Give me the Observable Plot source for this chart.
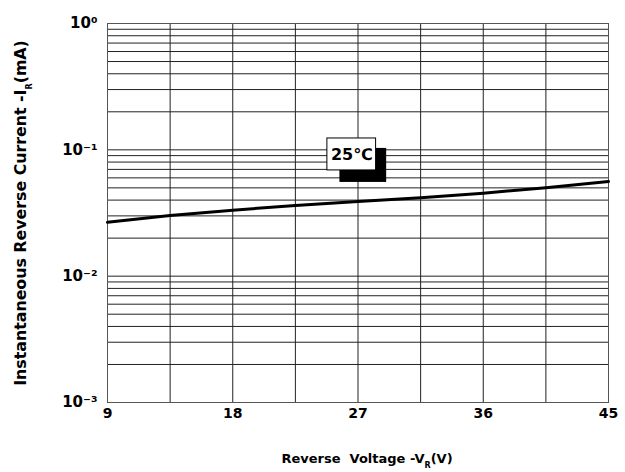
<!DOCTYPE html>
<html><head><meta charset="utf-8">
<script src="https://cdn.jsdelivr.net/npm/d3@7"></script>
<script src="https://cdn.jsdelivr.net/npm/@observablehq/plot@0.6"></script>
<style>body{margin:0;background:#fff;} svg{display:block;}</style>
</head><body><div id="chart"></div>
<script>
// Data
const voltage = [9, 13.5, 18, 22.5, 27, 31.5, 36, 40.5, 45];
const current = [0.0267, 0.0302, 0.0333, 0.0363, 0.039, 0.0417, 0.0454, 0.0501, 0.0562];

// Axes / ticks
const xTicks = [9, 18, 27, 36, 45];
const xGrid = [9, 13.5, 18, 22.5, 27, 31.5, 36, 40.5, 45];
const yTicks = [0.001, 0.01, 0.1, 1];
const yTickLabels = ["10⁻³", "10⁻²", "10⁻¹", "10⁰"];

// Annotation
const tempLabel = ["25℃"];
const labelBoxV = [24.8, 28.3];
const labelBoxI = [0.0687, 0.123];
const shadowV = [25.7, 29.06];
const shadowI = [0.0552, 0.1026];

// Titles
const xTitle = ["Reverse  Voltage -V", "R", "(V)"];
const yTitle = ["Instantaneous Reverse Current -I", "R", "(mA)"];

const series = voltage.map((v, i) => ({v, i: current[i]}));
const yGrid = d3.scaleLog().domain([yTicks[0], yTicks[yTicks.length - 1]]).ticks();

const font = "'DejaVu Sans', sans-serif";

const chart = Plot.plot({
  width: 625,
  height: 472,
  marginLeft: 107,
  marginRight: 17,
  marginTop: 23,
  marginBottom: 70,
  style: {fontFamily: font, background: "#fff", color: "#000"},
  x: {domain: [9, 45], label: null},
  y: {type: "log", domain: [0.001, 1], label: null},
  marks: [
    Plot.ruleY(yGrid, {stroke: "#222", strokeWidth: 1}),
    Plot.ruleX(xGrid, {stroke: "#222", strokeWidth: 1}),
    Plot.frame({stroke: "#555", strokeWidth: 1}),
    Plot.line(series, {x: "v", y: "i", stroke: "#000", strokeWidth: 3}),
    Plot.rect([0], {x1: shadowV[0], x2: shadowV[1], y1: shadowI[0], y2: shadowI[1], fill: "#000"}),
    Plot.rect([0], {x1: labelBoxV[0], x2: labelBoxV[1], y1: labelBoxI[0], y2: labelBoxI[1], fill: "#fff", stroke: "#000", strokeWidth: 1}),
    Plot.text(tempLabel, {x: (labelBoxV[0] + labelBoxV[1]) / 2, y: Math.sqrt(labelBoxI[0] * labelBoxI[1]), text: d => d, fontSize: 16, fontWeight: "bold", fill: "#000"}),
    Plot.axisX({ticks: xTicks, tickSize: 0, tickPadding: 6, fontSize: 14, fontWeight: "bold", label: null}),
    Plot.axisY({ticks: yTicks, tickSize: 0, tickPadding: 10, fontSize: 15, fontWeight: "bold", label: null,
      tickFormat: d => yTickLabels[yTicks.indexOf(d)]}),
    Plot.text([xTitle.join("")], {frameAnchor: "bottom", lineAnchor: "middle", textAnchor: "middle", dy: 56, dx: 9, text: d => d, fontSize: 13, fontWeight: "bold", fill: "#000"}),
    Plot.text([yTitle.join("")], {frameAnchor: "left", textAnchor: "middle", lineAnchor: "middle", dx: -87, rotate: -90, text: d => d, fontSize: 15.8, fontWeight: "bold", fill: "#000"})
  ]
});

// Turn the titles into main text + subscript + unit
function subscriptify(svg, parts, subSize, shift) {
  d3.select(svg).selectAll("text").filter(function() { return this.textContent === parts.join(""); })
    .each(function() {
      const t = d3.select(this);
      t.text(null).style("white-space", "pre");
      t.append("tspan").text(parts[0]);
      t.append("tspan").attr("dy", shift).attr("font-size", subSize).text(parts[1]);
      t.append("tspan").attr("dy", -shift).text(parts[2]);
    });
}
subscriptify(chart, xTitle, 8, 5);
subscriptify(chart, yTitle, 8, 6);

document.getElementById("chart").append(chart);
</script>
</body></html>
